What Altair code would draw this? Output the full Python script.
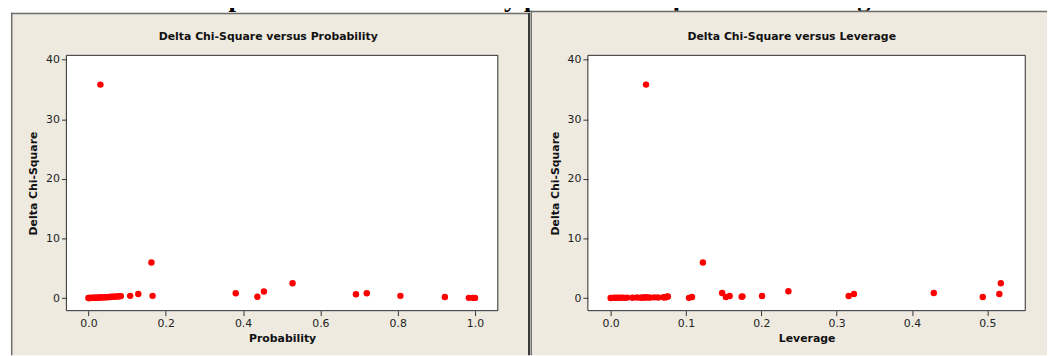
import altair as alt
import pandas as pd

# ---------------- data ----------------
# Left panel: Delta Chi-Square versus Probability
prob_x = [0.000, 0.002, 0.004, 0.006, 0.008, 0.010, 0.012, 0.015, 0.018, 0.021,
          0.025, 0.028, 0.032, 0.036, 0.040, 0.044, 0.048, 0.052, 0.056, 0.060,
          0.065, 0.070, 0.075, 0.080, 0.084,
          0.031, 0.108, 0.129, 0.163, 0.166, 0.381, 0.437, 0.454, 0.528, 0.692,
          0.720, 0.807, 0.922, 0.984, 0.994, 1.000]
prob_y = [0.02, 0.03, 0.03, 0.04, 0.05, 0.05, 0.06, 0.06, 0.07, 0.08,
          0.09, 0.10, 0.11, 0.12, 0.13, 0.14, 0.16, 0.18, 0.20, 0.22,
          0.24, 0.26, 0.28, 0.31, 0.34,
          35.8, 0.38, 0.70, 5.97, 0.38, 0.83, 0.22, 1.10, 2.49, 0.66,
          0.83, 0.38, 0.20, 0.05, 0.05, 0.04]

# Right panel: Delta Chi-Square versus Leverage
lev_x = [0.000, 0.002, 0.004, 0.006, 0.008, 0.010, 0.013, 0.016, 0.019, 0.022,
         0.029, 0.035, 0.040, 0.043, 0.045, 0.047, 0.050, 0.053, 0.058, 0.063,
         0.070, 0.072, 0.074, 0.075, 0.076,
         0.047, 0.104, 0.108, 0.1225, 0.148, 0.153, 0.158, 0.174, 0.175, 0.201,
         0.236, 0.316, 0.323, 0.429, 0.494, 0.516, 0.518]
lev_y = [0.03, 0.05, 0.04, 0.06, 0.05, 0.07, 0.06, 0.08, 0.05, 0.09,
         0.07, 0.10, 0.06, 0.12, 0.08, 0.15, 0.11, 0.09, 0.13, 0.10,
         0.14, 0.12, 0.18, 0.22, 0.27,
         35.8, 0.05, 0.20, 5.97, 0.87, 0.20, 0.35, 0.22, 0.30, 0.35,
         1.15, 0.35, 0.70, 0.86, 0.20, 0.70, 2.50]

y_ticks = [0, 10, 20, 30, 40]
prob_ticks = [0.0, 0.2, 0.4, 0.6, 0.8, 1.0]
lev_ticks = [0.0, 0.1, 0.2, 0.3, 0.4, 0.5]

main_title = "Graph II and III: Probability plot of Chi-square and leverage"
left_title = "Delta Chi-Square versus Probability"
right_title = "Delta Chi-Square versus Leverage"
y_title = "Delta Chi-Square"

# ---------------- styling ----------------
BEIGE = "#EEEAE0"
FONT = "DejaVu Sans"
H = 258


def panel(xs, ys, xdomain, xticks, xtitle, subtitle, W, px0, px1, py0, py1,
          title_x, extra=None):
    df = pd.DataFrame({"x": xs, "y": ys})
    one = pd.DataFrame({"label": [subtitle]})

    bg = alt.Chart(one).mark_rect(fill=BEIGE, strokeWidth=0).encode(
        x=alt.value(px0), x2=alt.value(px1), y=alt.value(py0), y2=alt.value(py1))
    border_l = alt.Chart(one).mark_rule(color="#6e6e6e", strokeWidth=1.5).encode(
        x=alt.value(px0 + 0.75), y=alt.value(py0), y2=alt.value(py1))
    border_t = alt.Chart(one).mark_rule(color="#6e6e6e", strokeWidth=1.5).encode(
        x=alt.value(px0), x2=alt.value(px1), y=alt.value(py0 + 0.75))
    sub = alt.Chart(one).mark_text(font=FONT, fontSize=11, fontWeight="bold",
                                   color="#111111", baseline="middle",
                                   align="center").encode(
        x=alt.value(title_x), y=alt.value(-19), text="label:N")
    plot_bg = alt.Chart(one).mark_rect(fill="white", stroke="#2a2a2a",
                                       strokeWidth=1).encode(
        x=alt.value(0), x2=alt.value(W), y=alt.value(0), y2=alt.value(H))
    pts = alt.Chart(df).mark_circle(size=42, color="#FF0000", opacity=1).encode(
        x=alt.X("x:Q", scale=alt.Scale(domain=xdomain, nice=False, zero=False),
                axis=alt.Axis(values=xticks, format=".1f", grid=False,
                              domain=False, tickSize=5, tickColor="#333333",
                              labelFont=FONT, labelFontSize=11,
                              labelColor="#222222", labelPadding=2,
                              labelFlush=False, title=xtitle, titleFont=FONT,
                              titleFontSize=11, titleFontWeight="bold",
                              titleColor="#111111", titleX=W / 2, titleY=28,
                              titleBaseline="middle", titleAlign="center",
                              zindex=1)),
        y=alt.Y("y:Q", scale=alt.Scale(domain=[-2.1, 40.7], nice=False,
                                       zero=False),
                axis=alt.Axis(values=y_ticks, format="d", grid=False,
                              domain=False, tickSize=5, tickColor="#333333",
                              labelFont=FONT, labelFontSize=11,
                              labelColor="#222222", labelPadding=2,
                              labelFlush=False, title=y_title, titleFont=FONT,
                              titleFontSize=11, titleFontWeight="bold",
                              titleColor="#111111", titleX=-33, titleY=H / 2,
                              titleAngle=270, titleBaseline="middle",
                              titleAlign="center", zindex=1)),
    )
    layers = [bg, border_l, border_t]
    if extra:
        layers += extra
    layers += [sub, plot_bg, pts]
    return alt.layer(*layers).properties(width=W, height=H)


# left panel extras: main title (mostly outside), divider and bounds helper
one_main = pd.DataFrame({"label": [main_title]})
main = alt.Chart(one_main).mark_text(font="Liberation Serif", fontSize=27,
                                     fontWeight="bold", color="#000000",
                                     baseline="alphabetic",
                                     align="center").encode(
    x=alt.value(471), y=alt.value(-50), text="label:N")
divider = alt.Chart(one_main).mark_rule(color="#3a3a3a", strokeWidth=2).encode(
    x=alt.value(467.5), y=alt.value(-43), y2=alt.value(303))
bounds = alt.Chart(one_main).mark_rect(opacity=0).encode(
    x=alt.value(-60), x2=alt.value(-59), y=alt.value(-100), y2=alt.value(-99))

left = panel(prob_x, prob_y, [-0.057, 1.059], prob_ticks, "Probability",
             left_title, 436, -56, 467, -43, 303, 204,
             extra=[bounds, main, divider])
right = panel(lev_x, lev_y, [-0.0302, 0.5504], lev_ticks, "Leverage",
              right_title, 442, -58, 464, -45, 303, 206)

chart = alt.hconcat(left, right, spacing=91, bounds="flush",
                    padding={"left": -2, "top": -55, "right": 0, "bottom": 0}
                    ).configure_view(strokeWidth=0).configure(background="white")

chart.save("out.html", embed_options={"renderer": "svg", "actions": False})
